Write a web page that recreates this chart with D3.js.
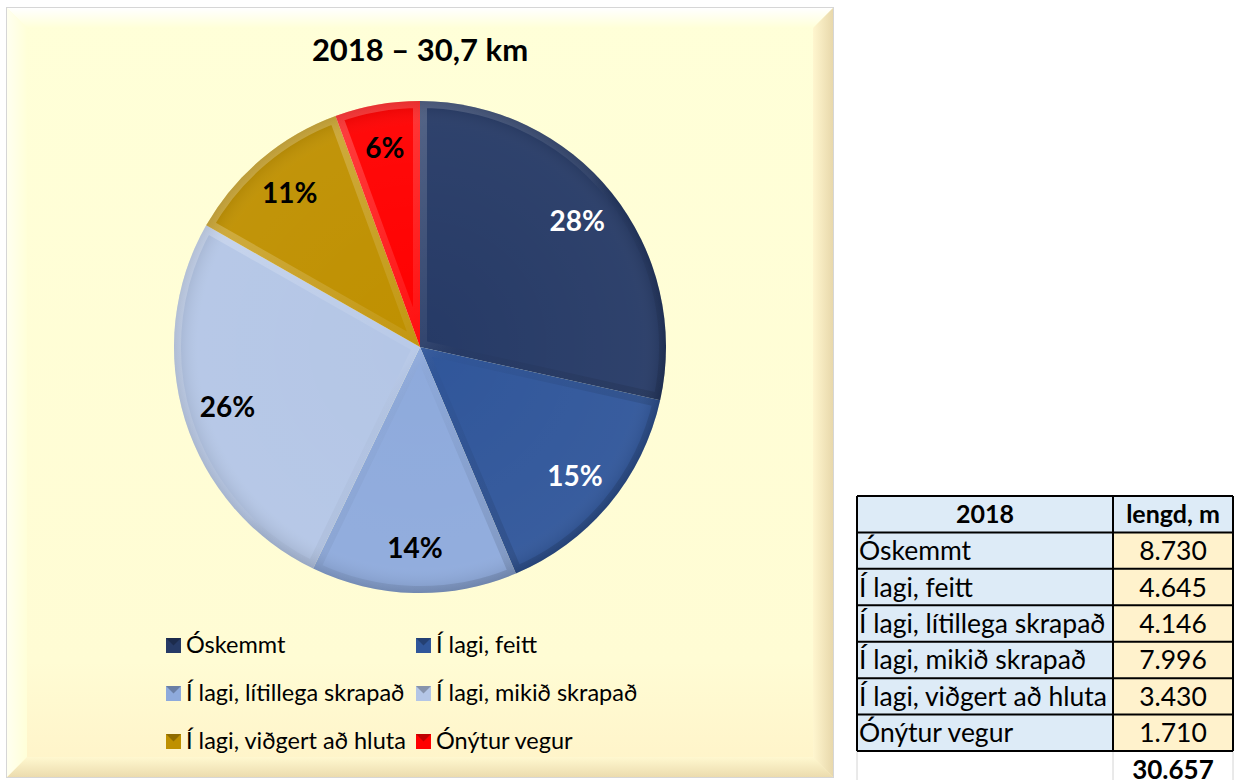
<!DOCTYPE html>
<html>
<head>
	<meta charset="utf-8">
	<style>
		body { margin: 0; background: white; }
		text { font-family: Lato, "Open Sans", sans-serif; }
	</style>
	<title>Vegir 2018</title>
</head>
<body>
	<script src="https://cdnjs.cloudflare.com/ajax/libs/d3/7.8.5/d3.min.js"></script>
	<script>
	// ástand vega 2018, lengd í metrum
	var year = "2018";
	var categories = ["Óskemmt", "Í lagi, feitt", "Í lagi, lítillega skrapað",
	                  "Í lagi, mikið skrapað", "Í lagi, viðgert að hluta", "Ónýtur vegur"];
	var lengths = [8730, 4645, 4146, 7996, 3430, 1710];
	var colors = ["#263a66", "#30569a", "#8eaadc", "#b4c6e6", "#bf9000", "#ff0000"];
	var labelColors = ["white", "white", "black", "black", "black", "black"];
	var tableHeader = [year, "lengd, m"];

	var is = d3.formatLocale({decimal: ",", thousands: ".", grouping: [3], currency: ["", ""]});
	var total = d3.sum(lengths);
	var pct = d3.format(".0%");

	var svg = d3.select("body")
	            .append("svg")
	            .attr("width", 1235)
	            .attr("height", 780);
	var defs = svg.append("defs");

	// chart panel with bevelled frame
	var px0 = 7, py0 = 8, px1 = 833, py1 = 777, bw = 20;
	function grad(id, x1, y1, x2, y2, stops) {
		var g = defs.append("linearGradient").attr("id", id)
		            .attr("x1", x1).attr("y1", y1).attr("x2", x2).attr("y2", y2);
		stops.forEach(function(s) {
			g.append("stop").attr("offset", s[0]).attr("stop-color", s[1]);
		});
	}
	grad("bgTop", 0, 0, 0, 1, [[0, "#ffffff"], [1, "#ffffd8"]]);
	grad("bgBot", 0, 0, 0, 1, [[0, "#fff8d0"], [1, "#ecdcae"]]);
	grad("bgLeft", 0, 0, 1, 0, [[0, "#fffff0"], [1, "#ffffd8"]]);
	grad("bgRight", 0, 0, 1, 0, [[0, "#fff6cf"], [1, "#e8d8ab"]]);
	grad("bgMain", 0, 0, 0, 1, [[0, "#ffffd8"], [0.85, "#fffcd4"], [1, "#fff3c8"]]);

	svg.append("rect")
	   .attr("x", px0 - 1).attr("y", py0 - 1)
	   .attr("width", px1 - px0 + 2).attr("height", py1 - py0 + 2)
	   .style("fill", "#d6d6d6");
	svg.append("rect")
	   .attr("x", px0).attr("y", py0)
	   .attr("width", px1 - px0).attr("height", py1 - py0)
	   .style("fill", "url(#bgMain)");
	svg.append("path")
	   .attr("d", "M" + px0 + "," + py0 + "L" + px1 + "," + py0 + "L" + (px1 - bw) + "," + (py0 + bw) +
	              "L" + (px0 + bw) + "," + (py0 + bw) + "Z")
	   .style("fill", "url(#bgTop)");
	svg.append("path")
	   .attr("d", "M" + px0 + "," + py1 + "L" + px1 + "," + py1 + "L" + (px1 - bw) + "," + (py1 - bw) +
	              "L" + (px0 + bw) + "," + (py1 - bw) + "Z")
	   .style("fill", "url(#bgBot)");
	svg.append("path")
	   .attr("d", "M" + px0 + "," + py0 + "L" + (px0 + bw) + "," + (py0 + bw) + "L" + (px0 + bw) + "," + (py1 - bw) +
	              "L" + px0 + "," + py1 + "Z")
	   .style("fill", "url(#bgLeft)");
	svg.append("path")
	   .attr("d", "M" + px1 + "," + py0 + "L" + (px1 - bw) + "," + (py0 + bw) + "L" + (px1 - bw) + "," + (py1 - bw) +
	              "L" + px1 + "," + py1 + "Z")
	   .style("fill", "url(#bgRight)");

	// title
	svg.append("text")
	   .attr("x", 420)
	   .attr("y", 61)
	   .style("text-anchor", "middle")
	   .style("font-weight", "bold")
	   .style("font-size", "31px")
	   .text(year + " – " + is.format(",.1f")(total / 1000) + " km");

	// pie
	var cx = 420, cy = 347, radius = 246;
	var pie = d3.pie().sort(null).value(function(d) { return d; });
	var arcs = pie(lengths);
	var arc = d3.arc().innerRadius(0).outerRadius(radius);
	var labelArc = d3.arc().innerRadius(radius * 0.82).outerRadius(radius * 0.82);

	defs.append("linearGradient")
	    .attr("id", "bevel")
	    .attr("gradientUnits", "userSpaceOnUse")
	    .attr("x1", -radius).attr("y1", -radius)
	    .attr("x2", radius).attr("y2", radius)
	    .selectAll("stop")
	    .data([[0, "white", 0.3], [0.5, "white", 0.06], [0.55, "black", 0.02], [1, "black", 0.18]])
	    .enter()
	    .append("stop")
	    .attr("offset", function(d) { return d[0]; })
	    .attr("stop-color", function(d) { return d[1]; })
	    .attr("stop-opacity", function(d) { return d[2]; });

	var shade = defs.append("radialGradient")
	    .attr("id", "shade")
	    .attr("gradientUnits", "userSpaceOnUse")
	    .attr("cx", 0).attr("cy", 0).attr("r", radius);
	shade.append("stop").attr("offset", 0).attr("stop-color", "white").attr("stop-opacity", 0);
	shade.append("stop").attr("offset", 0.9).attr("stop-color", "white").attr("stop-opacity", 0.04);
	shade.append("stop").attr("offset", 1).attr("stop-color", "black").attr("stop-opacity", 0.12);

	var g = svg.append("g")
	           .attr("transform", "translate(" + cx + "," + cy + ")");

	g.selectAll("clipPath")
	 .data(arcs)
	 .enter()
	 .append("clipPath")
	 .attr("id", function(d, i) { return "clip" + i; })
	 .append("path")
	 .attr("d", arc);

	g.selectAll("path.slice")
	 .data(arcs)
	 .enter()
	 .append("path")
	 .attr("class", "slice")
	 .attr("d", arc)
	 .style("fill", function(d, i) { return colors[i]; });

	g.selectAll("path.shade")
	 .data(arcs)
	 .enter()
	 .append("path")
	 .attr("class", "shade")
	 .attr("d", arc)
	 .style("fill", "url(#shade)");

	g.selectAll("path.rim")
	 .data(arcs)
	 .enter()
	 .append("path")
	 .attr("class", "rim")
	 .attr("d", arc)
	 .attr("clip-path", function(d, i) { return "url(#clip" + i + ")"; })
	 .style("fill", "none")
	 .style("stroke", "url(#bevel)")
	 .style("stroke-width", 14)
	 .style("stroke-linejoin", "round");

	g.selectAll("text.pct")
	 .data(arcs)
	 .enter()
	 .append("text")
	 .attr("class", "pct")
	 .attr("transform", function(d) { return "translate(" + labelArc.centroid(d) + ")"; })
	 .attr("dy", "0.35em")
	 .style("text-anchor", "middle")
	 .style("font-weight", "bold")
	 .style("font-size", "28px")
	 .style("fill", function(d, i) { return labelColors[i]; })
	 .text(function(d) { return pct(d.value / total); });

	// legend
	var legX = d3.scaleOrdinal().domain([0, 1]).range([166, 416]);
	var legY = d3.scaleOrdinal().domain([0, 1, 2]).range([645, 693, 741]);
	var leg = svg.selectAll("g.legend")
	             .data(categories)
	             .enter()
	             .append("g")
	             .attr("class", "legend")
	             .attr("transform", function(d, i) {
	                 return "translate(" + legX(i % 2) + "," + legY(Math.floor(i / 2)) + ")";
	             });
	leg.append("rect")
	   .attr("x", 0).attr("y", -7)
	   .attr("width", 15).attr("height", 15)
	   .style("fill", function(d, i) { return colors[i]; });
	leg.append("path")
	   .attr("d", "M0,-7L15,-7L7.5,0.5Z")
	   .style("fill", "black").style("opacity", 0.25);
	leg.append("text")
	   .attr("x", 20)
	   .attr("dy", "0.36em")
	   .style("font-size", "23.5px")
	   .text(function(d) { return d; });

	// table
	var tx0 = 857, tx1 = 1113, tx2 = 1233;
	var rowY = d3.scaleLinear().domain([0, 7]).range([496, 751]);
	var rowH = rowY(1) - rowY(0);

	// grid lines below table
	[tx0, tx1, tx2].forEach(function(x) {
		svg.append("line")
		   .attr("x1", x).attr("x2", x)
		   .attr("y1", rowY(7)).attr("y2", 780)
		   .style("stroke", "#d4d4d4");
	});

	svg.append("rect")
	   .attr("x", tx0).attr("y", rowY(0))
	   .attr("width", tx2 - tx0).attr("height", rowH)
	   .style("fill", "#ddebf7");
	var rows = svg.selectAll("g.row")
	              .data(categories)
	              .enter()
	              .append("g")
	              .attr("class", "row")
	              .attr("transform", function(d, i) { return "translate(0," + rowY(i + 1) + ")"; });
	rows.append("rect")
	    .attr("x", tx0).attr("width", tx1 - tx0).attr("height", rowH)
	    .style("fill", "#ddebf7");
	rows.append("rect")
	    .attr("x", tx1).attr("width", tx2 - tx1).attr("height", rowH)
	    .style("fill", "#fff2cc");
	rows.append("text")
	    .attr("x", tx0 + 2).attr("y", rowH / 2).attr("dy", "0.36em")
	    .style("font-size", "26.5px")
	    .text(function(d) { return d; });
	rows.append("text")
	    .attr("x", (tx1 + tx2) / 2).attr("y", rowH / 2).attr("dy", "0.36em")
	    .style("text-anchor", "middle")
	    .style("font-size", "26.5px")
	    .text(function(d, i) { return is.format(",")(lengths[i]); });

	svg.selectAll("text.head")
	   .data(tableHeader)
	   .enter()
	   .append("text")
	   .attr("class", "head")
	   .attr("x", function(d, i) { return i === 0 ? (tx0 + tx1) / 2 : (tx1 + tx2) / 2; })
	   .attr("y", rowY(0) + rowH / 2).attr("dy", "0.36em")
	   .style("text-anchor", "middle")
	   .style("font-weight", "bold")
	   .style("font-size", "25px")
	   .text(function(d) { return d; });

	// table borders
	d3.range(8).forEach(function(i) {
		svg.append("line")
		   .attr("x1", tx0).attr("x2", tx2)
		   .attr("y1", rowY(i)).attr("y2", rowY(i))
		   .style("stroke", "black").style("stroke-width", 2);
	});
	[tx0, tx1, tx2].forEach(function(x) {
		svg.append("line")
		   .attr("x1", x).attr("x2", x)
		   .attr("y1", rowY(0)).attr("y2", rowY(7))
		   .style("stroke", "black").style("stroke-width", 2);
	});

	svg.append("text")
	   .attr("x", (tx1 + tx2) / 2).attr("y", rowY(7) + rowH / 2).attr("dy", "0.36em")
	   .style("text-anchor", "middle")
	   .style("font-weight", "bold")
	   .style("font-size", "26px")
	   .text(is.format(",")(total));
	</script>
</body>
</html>
